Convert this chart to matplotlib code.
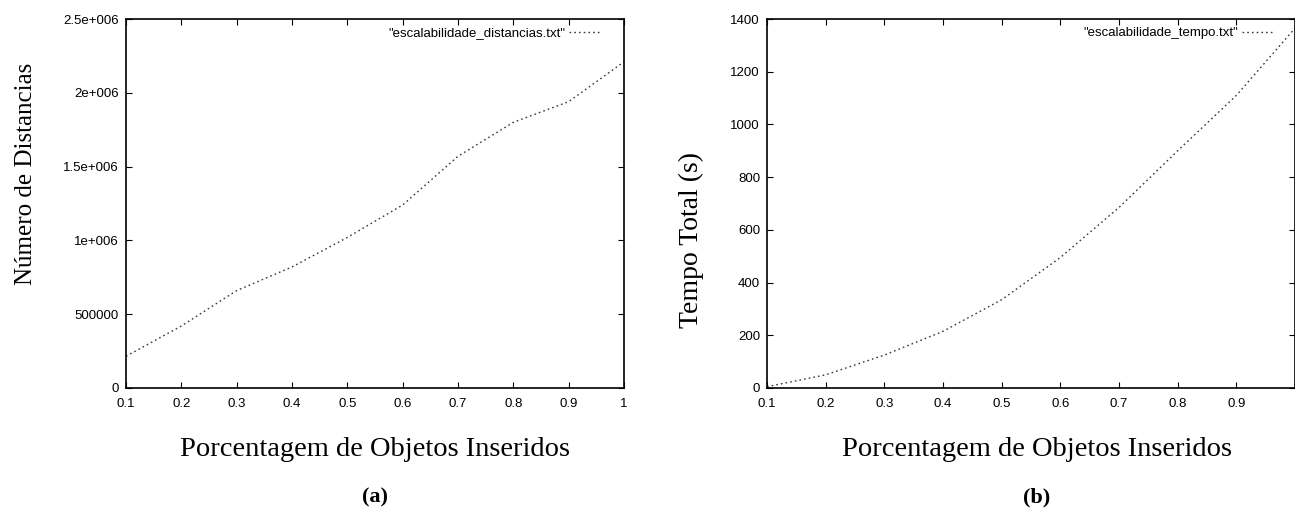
import matplotlib
matplotlib.use("Agg")
import matplotlib.pyplot as plt

# data
perc = [0.1, 0.2, 0.3, 0.4, 0.5, 0.6, 0.7, 0.8, 0.9, 1.0]
distancias = [215000, 420000, 660000, 820000, 1020000, 1240000, 1570000, 1800000, 1940000, 2210000]
tempo = [5, 50, 125, 215, 335, 495, 685, 900, 1110, 1365]

xticks = [0.1, 0.2, 0.3, 0.4, 0.5, 0.6, 0.7, 0.8, 0.9, 1.0]
xticklabels_a = ["0.1", "0.2", "0.3", "0.4", "0.5", "0.6", "0.7", "0.8", "0.9", "1"]
# the "1" of panel (b) is cut off by the page edge in the scan
xticklabels_b = ["0.1", "0.2", "0.3", "0.4", "0.5", "0.6", "0.7", "0.8", "0.9", ""]
yticks_a = [0, 500000, 1000000, 1500000, 2000000, 2500000]
yticklabels_a = ["0", "500000", "1e+006", "1.5e+006", "2e+006", "2.5e+006"]
yticks_b = [0, 200, 400, 600, 800, 1000, 1200, 1400]

W, H = 1295, 519
fig = plt.figure(figsize=(W / 100, H / 100), dpi=100)

serif = "Liberation Serif"
sans = "Liberation Sans"
line_kw = dict(color="#3a3a3a", lw=1.0, linestyle=(0, (1.2, 2.2)))


def setup(ax, xlabels, yticks, ylabels, ymax):
    ax.set_xlim(0.1, 1.0)
    ax.set_ylim(0, ymax)
    ax.set_xticks(xticks)
    ax.set_xticklabels(xlabels, fontfamily=sans, fontsize=9.5)
    ax.set_yticks(yticks)
    ax.set_yticklabels(ylabels, fontfamily=sans, fontsize=9.5)
    ax.tick_params(direction="in", top=True, right=True, length=4, width=0.8)
    ax.tick_params(axis="x", pad=7)
    ax.tick_params(axis="y", pad=5)
    for s in ax.spines.values():
        s.set_linewidth(1.2)
        s.set_color("black")


def legend(ax, xa):
    ax.legend(loc="center right", bbox_to_anchor=(xa, 0.962), frameon=False,
              prop={"family": sans, "size": 9.5}, markerfirst=False,
              handlelength=2.5, handletextpad=0.3, borderpad=0, borderaxespad=0)


# (a)
ax1 = fig.add_axes([126 / W, 1 - 388 / H, (624 - 126) / W, (388 - 19) / H])
ax1.plot(perc, distancias, label='"escalabilidade_distancias.txt"', **line_kw)
setup(ax1, xticklabels_a, yticks_a, yticklabels_a, 2500000)
ax1.set_ylabel("Número de Distancias", fontfamily=serif, fontsize=18)
ax1.yaxis.set_label_coords(-0.178, 0.58)
legend(ax1, 0.956)

# (b)
ax2 = fig.add_axes([767 / W, 1 - 388 / H, (1295 - 767) / W, (388 - 19) / H])
ax2.plot(perc, tempo, label='"escalabilidade_tempo.txt"', **line_kw)
setup(ax2, xticklabels_b, yticks_b, [str(v) for v in yticks_b], 1400)
ax2.set_ylabel("Tempo Total (s)", fontfamily=serif, fontsize=20)
ax2.yaxis.set_label_coords(-0.12, 0.40)
legend(ax2, 0.962)

fig.text(375 / W, 1 - 449 / H, "Porcentagem de Objetos Inseridos", fontfamily=serif,
         fontsize=20.5, ha="center", va="center")
fig.text(375 / W, 1 - 497 / H, "(a)", fontfamily=serif, fontsize=16, fontweight="bold",
         ha="center", va="center")
fig.text(1037 / W, 1 - 449 / H, "Porcentagem de Objetos Inseridos", fontfamily=serif,
         fontsize=20.5, ha="center", va="center")
fig.text(1037 / W, 1 - 497 / H, "(b)", fontfamily=serif, fontsize=16, fontweight="bold",
         ha="center", va="center")

fig.savefig("out.png", dpi=100)
